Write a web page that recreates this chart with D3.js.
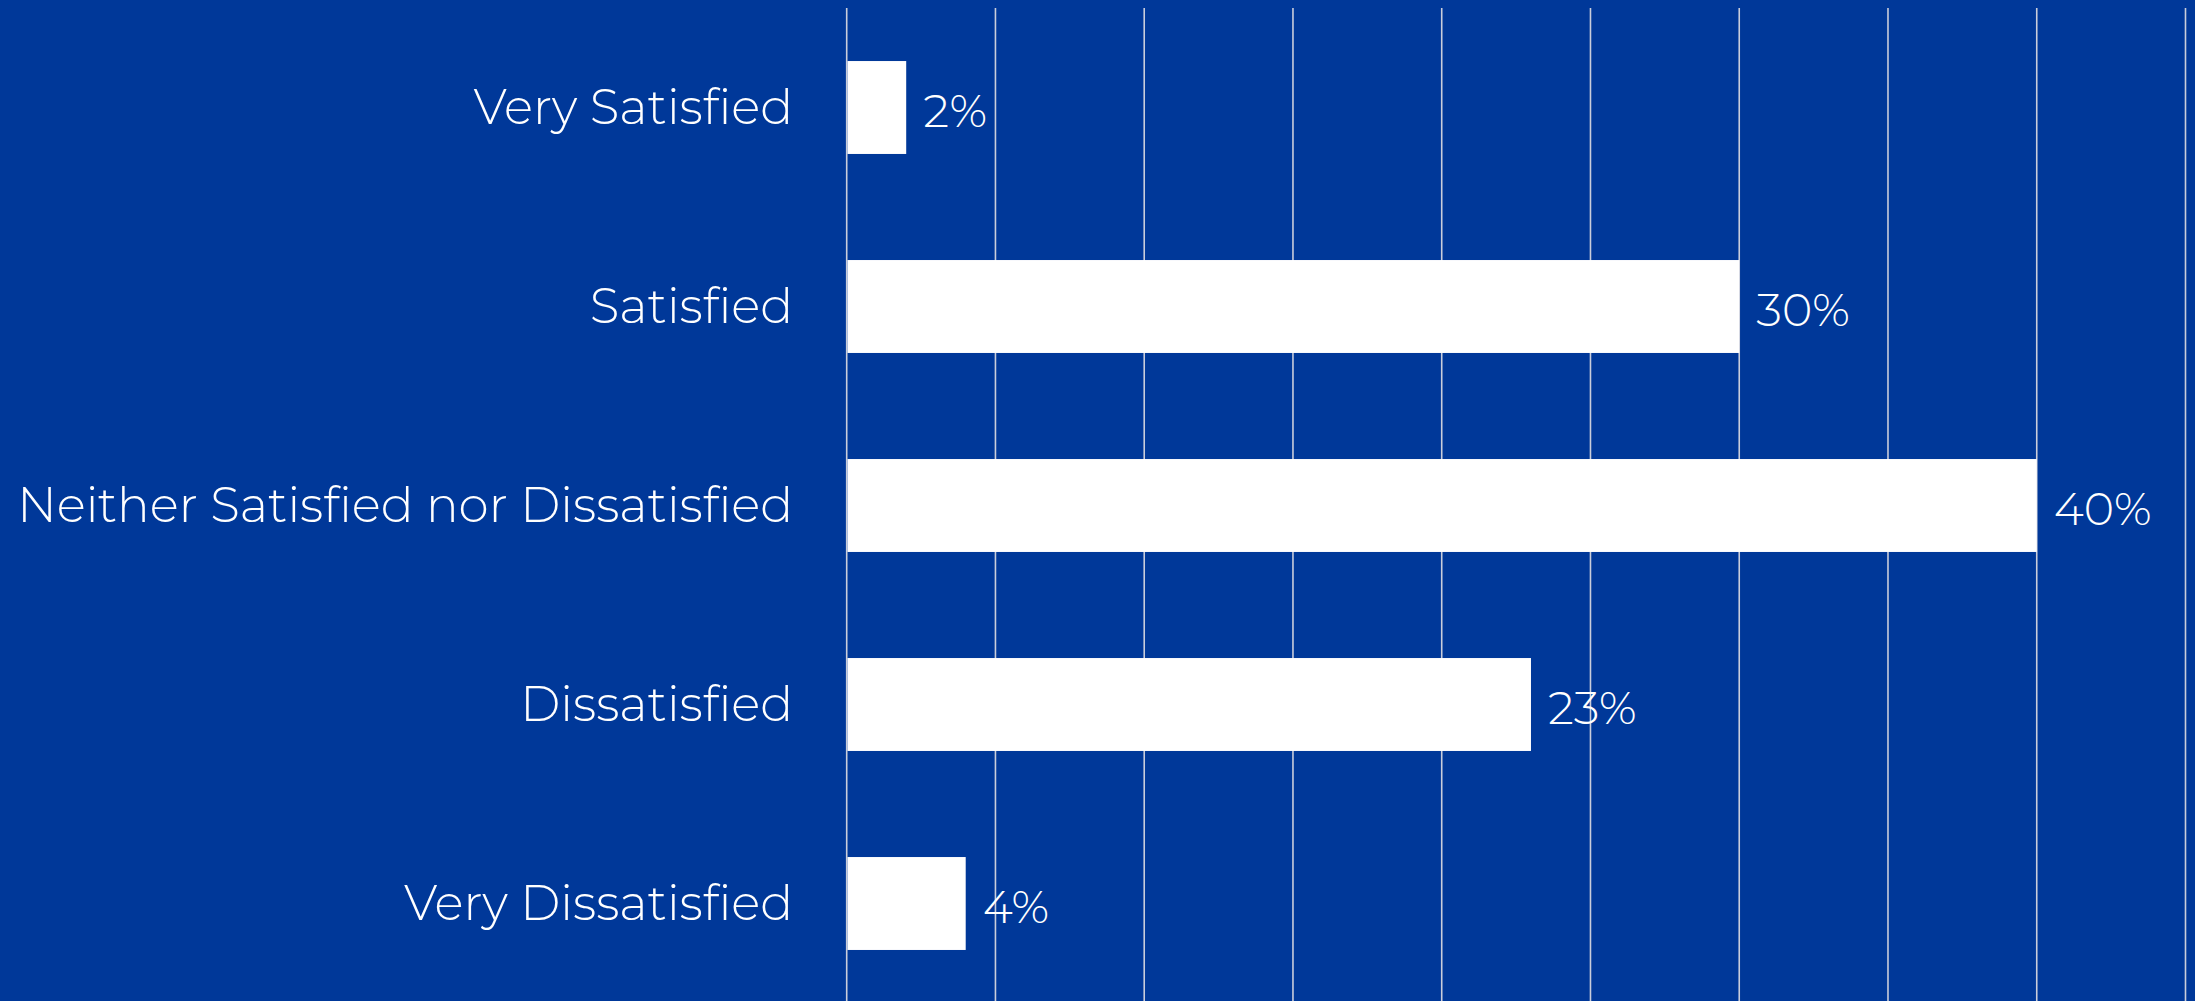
<!DOCTYPE html>
<html>
<head>
<meta charset="utf-8">
<script src="https://cdn.jsdelivr.net/npm/d3@7"></script>
<style>
  html, body { margin: 0; padding: 0; background: #003899; }
  svg { display: block; }
  text { font-family: Montserrat, Lato, "Open Sans", sans-serif; font-weight: 300; fill: #ffffff; }
</style>
</head>
<body>
<svg id="chart" width="2195" height="1001"></svg>
<script>
const categories = ["Very Satisfied", "Satisfied", "Neither Satisfied nor Dissatisfied", "Dissatisfied", "Very Dissatisfied"];
const values = [2, 30, 40, 23, 4];
const gridTicks = [0, 5, 10, 15, 20, 25, 30, 35, 40, 45];

const W = 2195, H = 1001;
const svg = d3.select("#chart");
svg.append("rect").attr("width", W).attr("height", H).attr("fill", "#003899");

const x = d3.scaleLinear().domain([0, 45]).range([846.7, 2185.5]);
const y = d3.scaleBand().domain(categories).range([8, 1003]).paddingInner(0.533).paddingOuter(0.2665);

const data = categories.map((c, i) => ({ c, v: values[i] }));

// gridlines (under bars)
svg.append("g").selectAll("line").data(gridTicks).join("line")
  .attr("x1", d => x(d)).attr("x2", d => x(d))
  .attr("y1", 8).attr("y2", H)
  .attr("stroke", "#c9cddb")
  .attr("stroke-width", 1.6);

// bars
svg.append("g").selectAll("rect").data(data).join("rect")
  .attr("x", x(0) + 0.8)
  .attr("y", d => y(d.c))
  .attr("width", d => x(d.v) - x(0) - 0.8)
  .attr("height", y.bandwidth())
  .attr("fill", "#ffffff");

// category labels
svg.append("g").selectAll("text").data(data).join("text")
  .attr("x", 793)
  .attr("y", d => y(d.c) + y.bandwidth() / 2)
  .attr("dy", "0.33em")
  .attr("text-anchor", "end")
  .attr("font-size", 48.5)
  .text(d => d.c);

// value labels
svg.append("g").selectAll("text").data(data).join("text")
  .attr("x", d => x(d.v) + 17)
  .attr("y", d => y(d.c) + y.bandwidth() / 2 + 3)
  .attr("dy", "0.35em")
  .attr("text-anchor", "start")
  .attr("font-size", 46)
  .text(d => d.v + "%");
</script>
</body>
</html>
